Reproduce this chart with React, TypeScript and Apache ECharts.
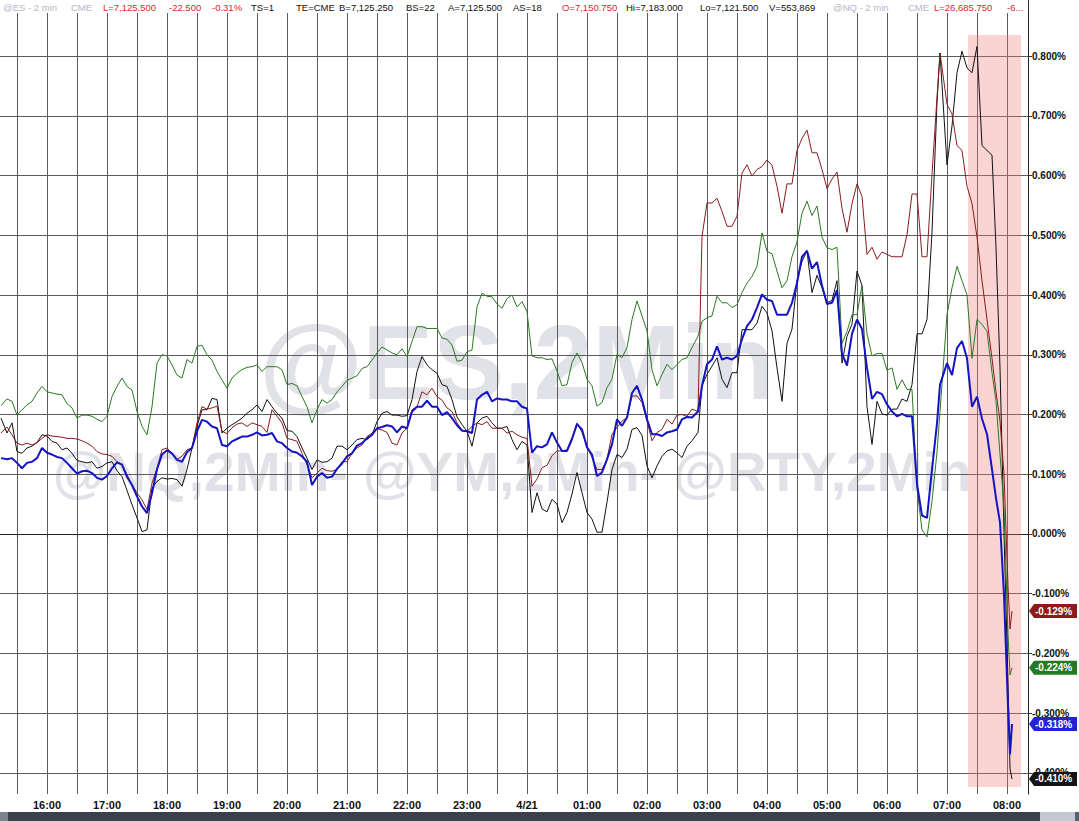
import React, { useEffect, useRef } from "react";
import * as echarts from "echarts";

// minutes since 15:00 of the previous day (2-min bars, sampled)
const times = [14,25,35,45,55,65,75,85,95,105,115,125,135,145,155,165,175,185,195,205,215,225,235,245,255,265,275,
  285,295,305,315,325,335,345,355,365,375,385,395,405,415,425,435,445,455,465,475,485,495,505,515,525,535,
  545,555,565,575,585,595,605,615,625,635,645,655,665,675,685,695,705,
  711,715,
  725,735,745,755,765,775,785,795,805,815,825,835,845,855,865,875,885,895,905,915,925,935,945,953,965,975,985,995,1005,
  1009,1013,1017,1021,1023,1025];

const midTimes = [20,30,40,50,60,70,80,90,100,110,120,130,140,150,160,170,180,190,200,210,220,230,240,250,260,270,280,
  290,300,310,320,330,340,350,360,370,380,390,400,410,420,430,440,450,460,470,480,490,500,510,520,530,540,
  550,560,570,580,590,600,610,620,630,640,650,660,670,680,690,700,
  720,730,740,750,760,770,780,790,800,810,820,830,840,850,860,870,880,890,900,910,920,930,940,950,960,970,980,990,1000];

// % change — ES (blue)
const esValues = [.127,.127,.110,.121,.144,.133,.127,.110,.105,.102,.091,.110,.116,.082,.046,.068,.133,.135,.121,.144,.191,.180,.149,.155,.163,.166,.165,
  .169,.152,.138,.130,.082,.102,.096,.118,.135,.152,.166,.179,.180,.180,.205,.213,.213,.199,.194,.173,.169,.233,.222,.225,.222,.213,
  .136,.145,.170,.139,.159,.175,.133,.103,.150,.181,.236,.225,.167,.164,.172,.192,.195,
  .205,.248,
  .292,.292,.292,.326,.359,.401,.390,.367,.387,.464,.444,.416,.387,.302,.335,.343,.226,.234,.205,.201,.197,.031,.108,.250,.266,.323,.213,.193,.108,
  .060,.019,-.102,-.288,-.369,-.318];
const esMid = [.125,.119,.119,.127,.136,.129,.119,.101,.106,.094,.097,.120,.096,.063,.035,.108,.140,.124,.137,.172,.188,.177,.147,.159,.163,.170,.166,
  .155,.144,.136,.121,.096,.094,.109,.130,.148,.160,.177,.182,.170,.177,.213,.223,.213,.204,.182,.172,.225,.238,.227,.225,.222,.210,
  .147,.150,.153,.139,.184,.145,.097,.125,.192,.195,.248,.192,.167,.170,.175,.196,
  .284,.314,.295,.298,.348,.379,.392,.367,.367,.420,.474,.455,.385,.408,.282,.359,.278,.238,.217,.197,.197,.084,.027,.185,.286,.311,.294,.230,.167];

// NQ (dark red)
const nqValues = [.169,.166,.149,.149,.160,.164,.162,.160,.156,.147,.134,.130,.116,.082,.057,.085,.141,.135,.130,.144,.213,.211,.172,.178,.186,.186,.180,
  .208,.186,.158,.135,.094,.110,.105,.121,.135,.149,.169,.174,.152,.169,.208,.238,.244,.224,.205,.174,.180,.183,.177,.177,.172,.162,
  .080,.111,.131,.139,.161,.170,.128,.108,.167,.189,.231,.220,.156,.175,.184,.200,.209,
  .205,.498,
  .554,.540,.515,.604,.599,.615,.617,.537,.586,.662,.638,.610,.594,.545,.553,.565,.480,.472,.464,.464,.569,.464,.602,.805,.703,.642,.553,.424,.294,
  .238,.189,.100,-.086,-.159,-.129];
const nqMid = [.179,.152,.152,.153,.166,.163,.160,.159,.152,.138,.133,.121,.099,.069,.041,.110,.144,.125,.141,.186,.209,.214,.168,.184,.180,.183,.170,
  .197,.160,.155,.116,.102,.106,.108,.121,.144,.163,.176,.170,.149,.177,.213,.233,.230,.211,.186,.172,.186,.188,.177,.169,.166,.160,
  .092,.115,.139,.141,.186,.147,.108,.125,.178,.195,.231,.189,.170,.192,.199,.197,
  .554,.562,.515,.532,.618,.610,.626,.582,.586,.642,.676,.638,.578,.606,.505,.586,.468,.460,.468,.464,.501,.569,.464,.731,.719,.650,.582,.497,.359];

// YM (green)
const ymValues = [.215,.222,.208,.222,.247,.236,.233,.211,.199,.197,.188,.230,.261,.241,.180,.213,.300,.283,.261,.286,.316,.291,.258,.261,.275,.280,.272,
  .280,.275,.252,.230,.186,.225,.225,.247,.261,.277,.291,.313,.303,.310,.322,.347,.344,.328,.316,.291,.308,.403,.397,.378,.400,.389,
  .298,.295,.293,.248,.287,.287,.248,.220,.259,.295,.359,.365,.275,.267,.275,.292,.312,
  .331,.356,
  .365,.387,.379,.404,.431,.504,.469,.412,.464,.537,.533,.497,.476,.319,.367,.416,.298,.302,.278,.258,.242,.007,.055,.205,.412,.424,.294,.351,.270,
  .222,.133,.044,-.167,-.236,-.224];
const ymMid = [.226,.199,.216,.236,.238,.234,.218,.194,.199,.192,.197,.247,.247,.205,.166,.286,.298,.266,.292,.314,.300,.272,.244,.269,.279,.283,.280,
  .280,.250,.248,.213,.208,.219,.238,.257,.265,.280,.303,.308,.300,.297,.347,.344,.344,.326,.289,.305,.380,.398,.385,.394,.380,.372,
  .295,.292,.273,.250,.303,.259,.214,.245,.301,.312,.390,.340,.248,.284,.284,.295,
  .362,.398,.387,.384,.420,.448,.473,.440,.424,.489,.557,.549,.479,.480,.339,.367,.335,.302,.274,.242,.242,.076,-.005,.137,.367,.448,.400,.359,.339];

// RTY (black)
const rtyValues = [.194,.186,.135,.147,.166,.155,.141,.135,.121,.121,.113,.121,.096,.049,.004,.077,.094,.093,.080,.144,.208,.227,.169,.183,.194,.208,.205,
  .213,.194,.172,.144,.108,.120,.127,.147,.149,.160,.166,.202,.199,.197,.225,.297,.275,.250,.225,.183,.147,.194,.186,.177,.158,.155,
  .036,.042,.058,.019,.067,.069,.025,.003,.108,.128,.175,.165,.094,.130,.142,.128,.156,
  .170,.248,
  .281,.259,.270,.342,.342,.381,.340,.222,.343,.456,.404,.412,.391,.286,.351,.416,.150,.201,.209,.226,.250,.335,.505,.805,.683,.808,.772,.650,.634,
  .480,.278,.003,-.248,-.393,-.410];
const rtyMid = [.169,.138,.144,.153,.164,.152,.144,.123,.119,.110,.119,.106,.073,.027,.007,.088,.092,.091,.108,.180,.208,.225,.177,.188,.202,.216,.225,
  .202,.173,.163,.127,.124,.121,.147,.141,.158,.158,.188,.205,.199,.198,.272,.283,.269,.247,.196,.172,.186,.197,.177,.180,.141,.149,
  .069,.037,.050,.036,.103,.036,.003,.053,.133,.142,.178,.114,.114,.139,.136,.147,
  .267,.295,.245,.270,.342,.353,.370,.278,.319,.424,.474,.433,.387,.424,.331,.440,.213,.222,.199,.209,.222,.335,.359,.723,.618,.772,.780,.816,.642];

// axis extents
const xMin = 13, xMax = 1041;
const yMin = -0.43515, yMax = 0.87197;
// highlighted time window (minutes) and value range
const bandX = [981, 1034];
const bandY = [0.835, -0.4234];

const headerItems = [
  { x: 3, text: "@ES - 2 min", c: "#b4b8c4" },
  { x: 71, text: "CME", c: "#b4b8c4" },
  { x: 103, text: "L=7,125.500", c: "#e0261f" },
  { x: 169, text: "-22.500", c: "#e0261f" },
  { x: 212, text: "-0.31%", c: "#e0261f" },
  { x: 251, text: "TS=1", c: "#111" },
  { x: 296, text: "TE=CME", c: "#111" },
  { x: 339, text: "B=7,125.250", c: "#111" },
  { x: 406, text: "BS=22", c: "#111" },
  { x: 448, text: "A=7,125.500", c: "#111" },
  { x: 513, text: "AS=18", c: "#111" },
  { x: 562, text: "O=7,150.750", c: "#e0261f" },
  { x: 626, text: "Hi=7,183.000", c: "#111" },
  { x: 700, text: "Lo=7,121.500", c: "#111" },
  { x: 769, text: "V=553,869", c: "#111" },
  { x: 833, text: "@NQ - 2 min", c: "#b4b8c4" },
  { x: 908, text: "CME", c: "#b4b8c4" },
  { x: 934, text: "L=26,685.750", c: "#e0261f" },
  { x: 1007, text: "-6...", c: "#e0261f" },
];

const seriesDefs = [
  { name: "RTY", values: rtyValues, mid: rtyMid, color: "#111111", width: 1, badge: "#141414" },
  { name: "YM", values: ymValues, mid: ymMid, color: "#2a7a22", width: 1, badge: "#237a23" },
  { name: "NQ", values: nqValues, mid: nqMid, color: "#8a1c1c", width: 1, badge: "#8e1b1b" },
  { name: "ES", values: esValues, mid: esMid, color: "#1414c4", width: 2, badge: "#2424d6" },
];

function buildData(values: number[], mid: number[]) {
  const pts: number[][] = times.map((t, i) => [t, values[i]]);
  midTimes.forEach((t, i) => pts.push([t, mid[i]]));
  pts.sort((a, b) => a[0] - b[0]);
  return pts;
}

function hourLabel(v: number) {
  if (Math.abs(v % 60) > 1e-6) return "";
  const h = (15 + Math.round(v / 60)) % 24;
  if (h === 0) return "4/21";
  return (h < 10 ? "0" : "") + h + ":00";
}

export default function App() {
  const ref = useRef<HTMLDivElement>(null);
  useEffect(() => {
    const chart = echarts.init(ref.current!, undefined, { renderer: "svg" });
    const staticGraphic: any[] = [
      {
        type: "text", id: "wm1", z: -10, x: 517, y: 362,
        style: { text: "@ES,2Min", fill: "#e1e2e8", font: "bold 106px 'Liberation Sans', Arial", textAlign: "center", textVerticalAlign: "middle" },
      },
      {
        type: "text", id: "wm2", z: -10, x: 512, y: 472,
        style: { text: "@NQ,2Min- @YM,2Min- @RTY,2Min", fill: "#e1e2e8", font: "bold 55px 'Liberation Sans', Arial", textAlign: "center", textVerticalAlign: "middle" },
      },
      ...headerItems.map((h, i) => ({
        type: "text", id: "hd" + i, x: h.x, y: 7,
        style: { text: h.text, fill: h.c, font: "9.5px 'Liberation Sans', Arial", textVerticalAlign: "middle" },
      })),
      { type: "line", id: "axtop", shape: { x1: 1028.5, y1: 0, x2: 1028.5, y2: 14 }, style: { stroke: "#333", lineWidth: 1 } },
      { type: "rect", id: "sb0", shape: { x: 0, y: 812, width: 8, height: 9 }, style: { fill: "#7d828c" } },
      { type: "rect", id: "sb1", shape: { x: 8, y: 812, width: 1032, height: 9 }, style: { fill: "#3b414c" } },
      { type: "rect", id: "sb2", shape: { x: 1040, y: 812, width: 35, height: 9 }, style: { fill: "#c4c7cf" } },
      { type: "rect", id: "sb3", shape: { x: 1075, y: 812, width: 4, height: 9 }, style: { fill: "#5a606b" } },
    ];

    const option: any = {
      animation: false,
      backgroundColor: "#ffffff",
      grid: { left: 0, right: 51, top: 13, bottom: 27, containLabel: false },
      xAxis: {
        type: "value", min: xMin, max: xMax, minInterval: 30, maxInterval: 30, splitNumber: 30,
        axisLine: { show: true, lineStyle: { color: "#222", width: 1 } },
        axisTick: { show: true, length: 3, lineStyle: { color: "#333" } },
        axisLabel: {
          interval: 0, showMinLabel: false, showMaxLabel: false, margin: 5,
          color: "#111", fontWeight: "bold", fontSize: 11, fontFamily: "'Liberation Sans', Arial",
          formatter: (v: number) => hourLabel(v),
        },
        splitLine: { show: true, showMinLine: false, showMaxLine: false, lineStyle: { color: "#5c5c5c", width: 1 } },
      },
      yAxis: {
        type: "value", position: "right", min: yMin, max: yMax, minInterval: 0.1, maxInterval: 0.1, splitNumber: 13,
        axisLine: { show: true, lineStyle: { color: "#222", width: 1 } },
        axisTick: { show: true, length: 4, lineStyle: { color: "#333" } },
        axisLabel: {
          showMinLabel: false, showMaxLabel: false, margin: 4,
          color: "#111", fontWeight: "bold", fontSize: 10, fontFamily: "'Liberation Sans', Arial",
          formatter: (v: number) => {
            if (Math.abs(v * 10 - Math.round(v * 10)) > 1e-6) return "";
            return (Math.round(v * 10) / 10).toFixed(3) + "%";
          },
        },
        splitLine: { show: true, showMinLine: false, showMaxLine: false, lineStyle: { color: "#5c5c5c", width: 1 } },
      },
      series: seriesDefs.map((s, idx) => ({
        type: "line",
        name: s.name,
        data: buildData(s.values, s.mid),
        showSymbol: false,
        symbol: "none",
        lineStyle: { color: s.color, width: s.width },
        itemStyle: { color: s.color },
        z: 3 + idx,
        silent: true,
        ...(idx === 0
          ? {
              markArea: {
                silent: true,
                itemStyle: { color: "rgba(240,120,120,0.33)" },
                data: [[{ xAxis: bandX[0], yAxis: bandY[0] }, { xAxis: bandX[1], yAxis: bandY[1] }]],
              },
            }
          : {}),
      })),
      graphic: staticGraphic,
    };
    chart.setOption(option);

    const badges = seriesDefs.map((s, i) => {
      const last = s.values[s.values.length - 1];
      const y = chart.convertToPixel({ yAxisIndex: 0 }, last) as number;
      return {
        type: "group", id: "badge" + i, z: 100,
        children: [
          { type: "polygon", z: 100, shape: { points: [[1029, y], [1034, y - 7], [1077, y - 7], [1077, y + 7], [1034, y + 7]] }, style: { fill: s.badge } },
          { type: "text", z: 101, x: 1035, y: y, style: { text: last.toFixed(3) + "%", fill: "#ffffff", font: "bold 10px 'Liberation Sans', Arial", textVerticalAlign: "middle" } },
        ],
      };
    });
    chart.setOption({ graphic: [...staticGraphic, ...badges] });

    return () => chart.dispose();
  }, []);
  return (
    <div
      ref={ref}
      style={{ position: "fixed", left: 0, top: 0, width: 1079, height: 821, background: "#fff" }}
    />
  );
}
